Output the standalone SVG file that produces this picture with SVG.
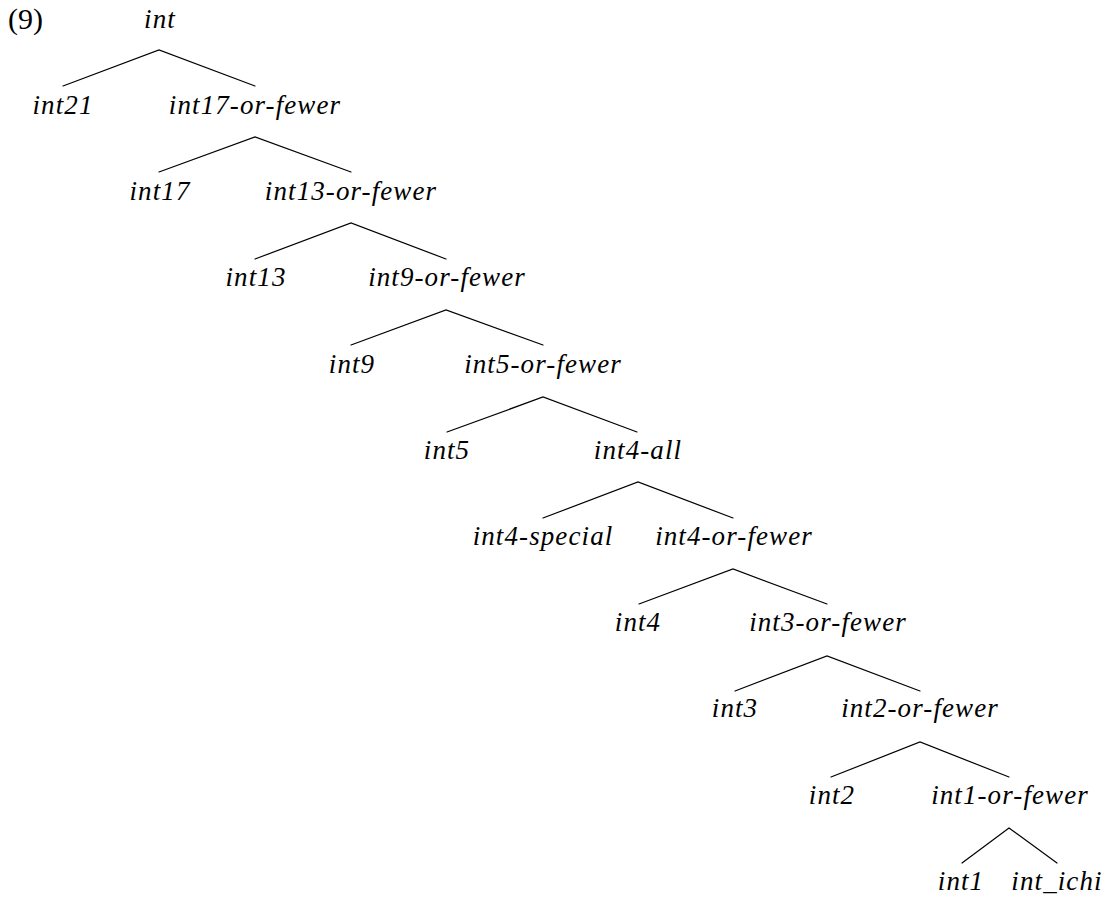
<svg xmlns="http://www.w3.org/2000/svg" width="1108" height="898" viewBox="0 0 1108 898">
  <style>
    .lbl { font-family: "Liberation Serif", "Times New Roman", serif; font-style: italic; font-size: 27px; letter-spacing: 1.1px; fill: #000; text-anchor: middle; }
    .num { font-family: "Liberation Serif", "Times New Roman", serif; font-size: 30px; fill: #000; }
    .edge { stroke: #000; stroke-width: 1.2; fill: none; stroke-linecap: round; }
  </style>
  <rect width="1108" height="898" fill="#fff"/>

  <text class="num" x="8" y="29">(9)</text>

  <g id="edges">
    <polyline class="edge" points="63,86 159,50 255,86"/>
    <polyline class="edge" points="159,172 255,137 351,172"/>
    <polyline class="edge" points="255,259 351,223 446,259"/>
    <polyline class="edge" points="351,345 446,310 543,345"/>
    <polyline class="edge" points="447,432 543,397 637,432"/>
    <polyline class="edge" points="543,518 638,482 733,518"/>
    <polyline class="edge" points="639,604 733,569 827,604"/>
    <polyline class="edge" points="735,691 827,656 920,691"/>
    <polyline class="edge" points="831,777 920,742 1009,777"/>
    <polyline class="edge" points="962,863 1009,828 1057,863"/>
  </g>

  <g id="n-int"><text class="lbl" x="160" y="28">int</text></g>
  <g id="n-int21"><text class="lbl" x="63" y="114">int21</text></g>
  <g id="n-int17-or-fewer"><text class="lbl" x="255" y="114">int17-or-fewer</text></g>
  <g id="n-int17"><text class="lbl" x="160" y="200">int17</text></g>
  <g id="n-int13-or-fewer"><text class="lbl" x="351" y="200">int13-or-fewer</text></g>
  <g id="n-int13"><text class="lbl" x="256" y="286">int13</text></g>
  <g id="n-int9-or-fewer"><text class="lbl" x="447" y="286">int9-or-fewer</text></g>
  <g id="n-int9"><text class="lbl" x="352" y="373">int9</text></g>
  <g id="n-int5-or-fewer"><text class="lbl" x="543" y="373">int5-or-fewer</text></g>
  <g id="n-int5"><text class="lbl" x="447" y="459">int5</text></g>
  <g id="n-int4-all"><text class="lbl" x="638" y="459">int4-all</text></g>
  <g id="n-int4-special"><text class="lbl" x="543" y="545">int4-special</text></g>
  <g id="n-int4-or-fewer"><text class="lbl" x="734" y="545">int4-or-fewer</text></g>
  <g id="n-int4"><text class="lbl" x="638" y="631">int4</text></g>
  <g id="n-int3-or-fewer"><text class="lbl" x="828" y="631">int3-or-fewer</text></g>
  <g id="n-int3"><text class="lbl" x="735" y="717">int3</text></g>
  <g id="n-int2-or-fewer"><text class="lbl" x="920" y="717">int2-or-fewer</text></g>
  <g id="n-int2"><text class="lbl" x="832" y="804">int2</text></g>
  <g id="n-int1-or-fewer"><text class="lbl" x="1010" y="804">int1-or-fewer</text></g>
  <g id="n-int1"><text class="lbl" x="961" y="890">int1</text></g>
  <g id="n-int_ichi"><text class="lbl" x="1057" y="890">int_ichi</text></g>
</svg>
